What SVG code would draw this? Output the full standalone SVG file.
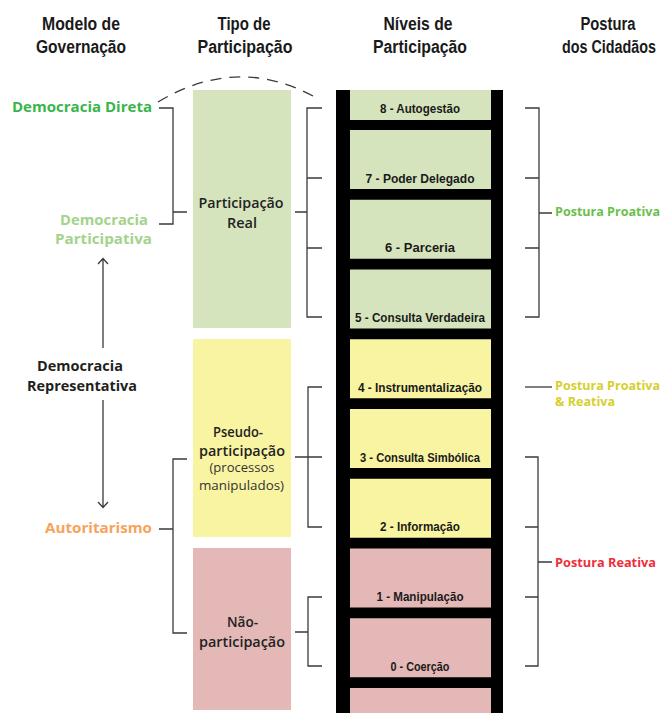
<svg xmlns="http://www.w3.org/2000/svg" width="664" height="713" viewBox="0 0 664 713">
<style>
.hdr{font-family:"Liberation Sans",Arial,sans-serif;font-weight:bold;font-size:18px;fill:#1a1a1a;text-anchor:middle}
.lvl{font-family:"Liberation Sans",Arial,sans-serif;font-weight:bold;font-size:13px;fill:#1a1a1a;text-anchor:middle}
.gov{font-family:"Open Sans","Liberation Sans",sans-serif;font-weight:bold;font-size:15px}
.box{font-family:"Open Sans","Liberation Sans",sans-serif;font-weight:600;font-size:14px;fill:#222;text-anchor:middle}
.sub{font-family:"Open Sans","Liberation Sans",sans-serif;font-weight:normal;font-size:12.5px;fill:#333;text-anchor:middle}
.pos{font-family:"Open Sans","Liberation Sans",sans-serif;font-weight:bold;font-size:13px}
.br{fill:none;stroke:#3a3a3a;stroke-width:1.3}
.g{fill:#d6e4bd}.y{fill:#f9f4a1}.p{fill:#e3b8b7}
</style>
<rect width="664" height="713" fill="#fff"/>

<g id="headers">
<text class="hdr" x="81" y="30" textLength="78" lengthAdjust="spacingAndGlyphs">Modelo de</text>
<text class="hdr" x="81" y="53" textLength="90" lengthAdjust="spacingAndGlyphs">Governação</text>
<text class="hdr" x="244" y="30" textLength="53" lengthAdjust="spacingAndGlyphs">Tipo de</text>
<text class="hdr" x="245" y="53" textLength="95" lengthAdjust="spacingAndGlyphs">Participação</text>
<text class="hdr" x="418" y="30" textLength="69" lengthAdjust="spacingAndGlyphs">Níveis de</text>
<text class="hdr" x="420" y="53" textLength="94" lengthAdjust="spacingAndGlyphs">Participação</text>
<text class="hdr" x="608" y="30" textLength="55" lengthAdjust="spacingAndGlyphs">Postura</text>
<text class="hdr" x="609" y="53" textLength="94" lengthAdjust="spacingAndGlyphs">dos Cidadãos</text>
</g>

<g id="ladder">
<rect x="336" y="90" width="167" height="623" fill="#000"/>
<rect class="g" x="350" y="90" width="141" height="30"/>
<rect class="g" x="350" y="130" width="141" height="59"/>
<rect class="g" x="350" y="199.75" width="141" height="59"/>
<rect class="g" x="350" y="269.5" width="141" height="59"/>
<rect class="y" x="350" y="339.25" width="141" height="59"/>
<rect class="y" x="350" y="409" width="141" height="59"/>
<rect class="y" x="350" y="478.75" width="141" height="59"/>
<rect class="p" x="350" y="548.5" width="141" height="59"/>
<rect class="p" x="350" y="618.25" width="141" height="59"/>
<rect class="p" x="350" y="688" width="141" height="25"/>
</g>
<g id="level-8"><text class="lvl" x="420" y="113" textLength="80" lengthAdjust="spacingAndGlyphs">8 - Autogestão</text></g>
<g id="level-7"><text class="lvl" x="420" y="182.5" textLength="109" lengthAdjust="spacingAndGlyphs">7 - Poder Delegado</text></g>
<g id="level-6"><text class="lvl" x="420" y="252.2" textLength="70" lengthAdjust="spacingAndGlyphs">6 - Parceria</text></g>
<g id="level-5"><text class="lvl" x="420" y="322" textLength="130" lengthAdjust="spacingAndGlyphs">5 - Consulta Verdadeira</text></g>
<g id="level-4"><text class="lvl" x="420" y="391.7" textLength="124" lengthAdjust="spacingAndGlyphs">4 - Instrumentalização</text></g>
<g id="level-3"><text class="lvl" x="420" y="461.5" textLength="120" lengthAdjust="spacingAndGlyphs">3 - Consulta Simbólica</text></g>
<g id="level-2"><text class="lvl" x="420" y="531.2" textLength="80" lengthAdjust="spacingAndGlyphs">2 - Informação</text></g>
<g id="level-1"><text class="lvl" x="420" y="601" textLength="87" lengthAdjust="spacingAndGlyphs">1 - Manipulação</text></g>
<g id="level-0"><text class="lvl" x="420" y="670.7" textLength="59" lengthAdjust="spacingAndGlyphs">0 - Coerção</text></g>

<g id="tipo-real">
<rect class="g" x="193" y="90" width="98" height="238"/>
<text class="box" x="241" y="208" textLength="85" lengthAdjust="spacingAndGlyphs">Participação</text>
<text class="box" x="242" y="228" textLength="30" lengthAdjust="spacingAndGlyphs">Real</text>
</g>
<g id="tipo-pseudo">
<rect class="y" x="193" y="339" width="98" height="198"/>
<text class="box" x="238" y="437" textLength="50" lengthAdjust="spacingAndGlyphs">Pseudo-</text>
<text class="box" x="242" y="456" textLength="86" lengthAdjust="spacingAndGlyphs">participação</text>
<text class="sub" x="242" y="472" textLength="65" lengthAdjust="spacingAndGlyphs">(processos</text>
<text class="sub" x="241.5" y="490" textLength="85" lengthAdjust="spacingAndGlyphs">manipulados)</text>
</g>
<g id="tipo-nao">
<rect class="p" x="193" y="548" width="98" height="162"/>
<text class="box" x="242.5" y="627" textLength="31" lengthAdjust="spacingAndGlyphs">Não-</text>
<text class="box" x="242" y="647" textLength="86" lengthAdjust="spacingAndGlyphs">participação</text>
</g>

<g id="gov-direta"><text class="gov" x="12" y="112" fill="#3ab54a" textLength="140" lengthAdjust="spacingAndGlyphs">Democracia Direta</text></g>
<g id="gov-participativa">
<text class="gov" x="104" y="225" fill="#a3d38c" text-anchor="middle" textLength="88" lengthAdjust="spacingAndGlyphs">Democracia</text>
<text class="gov" x="103.5" y="244" fill="#a3d38c" text-anchor="middle" textLength="97" lengthAdjust="spacingAndGlyphs">Participativa</text>
</g>
<g id="gov-representativa">
<text class="gov" x="80" y="371" fill="#231f20" font-weight="600" text-anchor="middle" textLength="86" lengthAdjust="spacingAndGlyphs">Democracia</text>
<text class="gov" x="82" y="391" fill="#231f20" font-weight="600" text-anchor="middle" textLength="110" lengthAdjust="spacingAndGlyphs">Representativa</text>
</g>
<g id="gov-autoritarismo"><text class="gov" x="45" y="533" fill="#f7a35c" textLength="107" lengthAdjust="spacingAndGlyphs">Autoritarismo</text></g>

<g id="postura-proativa"><text class="pos" x="555" y="216" fill="#6abf4b" textLength="105" lengthAdjust="spacingAndGlyphs">Postura Proativa</text></g>
<g id="postura-mista">
<text class="pos" x="555" y="390" fill="#d6cf2e" textLength="105" lengthAdjust="spacingAndGlyphs">Postura Proativa</text>
<text class="pos" x="555" y="406" fill="#d6cf2e" textLength="60" lengthAdjust="spacingAndGlyphs">&amp; Reativa</text>
</g>
<g id="postura-reativa"><text class="pos" x="555" y="567" fill="#ee2e3a" textLength="101" lengthAdjust="spacingAndGlyphs">Postura Reativa</text></g>

<g id="connectors">
<path class="br" d="M158,102 Q236,55 313,96" stroke-dasharray="11 8"/>
<path class="br" d="M159,108 H173 V224 H159 M173,212 H187"/>
<path class="br" d="M187,459 H173 V633 H187 M159,529 H173"/>
<path class="br" d="M322,108 H307 V317 H322 M307,178 H322 M307,248 H322 M295,212 H307"/>
<path class="br" d="M322,387 H308 V527 H322 M295,457 H322"/>
<path class="br" d="M322,597 H308 V666 H322 M295,632 H308"/>
<path class="br" d="M525,108 H539 V317 H525 M525,178 H539 M525,248 H539 M539,213 H552"/>
<path class="br" d="M525,387 H552"/>
<path class="br" d="M525,457 H538 V666 H525 M525,527 H538 M525,597 H538 M538,562 H552"/>
<path class="br" d="M103,348 V259 M98,264 L103,258.5 L108,264"/>
<path class="br" d="M103,400 V507 M98,502 L103,507.5 L108,502"/>
</g>
</svg>
